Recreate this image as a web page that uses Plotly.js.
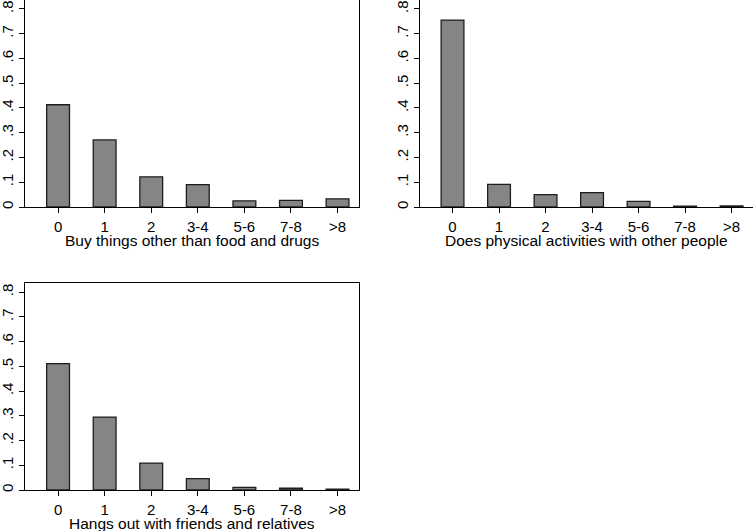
<!DOCTYPE html>
<html>
<head>
<meta charset="utf-8">
<script src="https://cdn.plot.ly/plotly-3.0.1.min.js"></script>
<style>html,body{margin:0;padding:0;background:#fff;}#chart{width:753px;height:531px;}</style>
</head>
<body>
<div id="chart"></div>
<script>
// Data (shares)
var categories = ['0', '1', '2', '3-4', '5-6', '7-8', '>8'];
var buyThings = [0.413, 0.271, 0.122, 0.090, 0.025, 0.027, 0.033];
var physicalActivities = [0.755, 0.091, 0.050, 0.058, 0.023, 0.003, 0.004];
var hangsOut = [0.511, 0.295, 0.109, 0.046, 0.011, 0.007, 0.003];
var panelTitles = ['Buy things other than food and drugs', 'Does physical activities with other people', 'Hangs out with friends and relatives'];
var yTickVals = [0, 0.1, 0.2, 0.3, 0.4, 0.5, 0.6, 0.7, 0.8];
var yTickText = ['0', '.1', '.2', '.3', '.4', '.5', '.6', '.7', '.8'];

var FONT = 'Liberation Sans, Arial, Helvetica, sans-serif';
var barStyle = {color: '#858585', line: {color: '#1e1e1e', width: 1.3}};

function bar(y, xa, ya) {
  return {type: 'bar', x: categories, y: y, xaxis: xa, yaxis: ya, width: 0.49,
          marker: barStyle, hoverinfo: 'x+y', showlegend: false};
}

var data = [
  bar(buyThings, 'x', 'y'),
  bar(physicalActivities, 'x2', 'y2'),
  bar(hangsOut, 'x3', 'y3')
];

function xAxis(domain, anchor) {
  return {domain: domain, anchor: anchor, type: 'category', range: [-0.71, 6.45],
          showline: true, mirror: true, linecolor: '#000', linewidth: 1,
          ticks: 'outside', ticklen: 5, tickcolor: '#000', tickwidth: 1,
          ticklabelstandoff: 1,
          showgrid: false, zeroline: false,
          tickfont: {family: FONT, size: 15, color: '#000'}};
}
function yAxis(domain, anchor) {
  return {domain: domain, anchor: anchor, range: [0, 0.836],
          showline: true, mirror: true, linecolor: '#000', linewidth: 1,
          ticks: 'outside', ticklen: 5, tickcolor: '#000', tickwidth: 1,
          tickvals: yTickVals, ticktext: yTickText, tickangle: -90,
          showgrid: false, zeroline: false,
          tickfont: {family: FONT, size: 15, color: '#000'}};
}
function axisTitle(text, xa, ya) {
  return {text: text, xref: xa + ' domain', yref: ya + ' domain', x: 0.5, y: 0,
          xanchor: 'center', yanchor: 'top', yshift: -22.5, showarrow: false,
          font: {family: FONT, size: 15.5, color: '#000'}};
}

var xd1 = [25 / 753, 358.5 / 753];
var xd2 = [419.5 / 753, 752.5 / 753];
var yd1 = [1 - 207 / 531, 1];
var yd3 = [1 - 490 / 531, 1 - 283.3 / 531];

var layout = {
  width: 753, height: 531,
  margin: {l: 0, r: 0, t: 0, b: 0},
  paper_bgcolor: '#fff', plot_bgcolor: '#fff',
  font: {family: FONT, color: '#000'},
  xaxis: xAxis(xd1, 'y'),
  yaxis: yAxis(yd1, 'x'),
  xaxis2: xAxis(xd2, 'y2'),
  yaxis2: yAxis(yd1, 'x2'),
  xaxis3: xAxis(xd1, 'y3'),
  yaxis3: yAxis(yd3, 'x3'),
  annotations: [
    axisTitle(panelTitles[0], 'x', 'y'),
    axisTitle(panelTitles[1], 'x2', 'y2'),
    axisTitle(panelTitles[2], 'x3', 'y3')
  ]
};

Plotly.newPlot('chart', data, layout, {displayModeBar: false, staticPlot: true});
</script>
</body>
</html>
